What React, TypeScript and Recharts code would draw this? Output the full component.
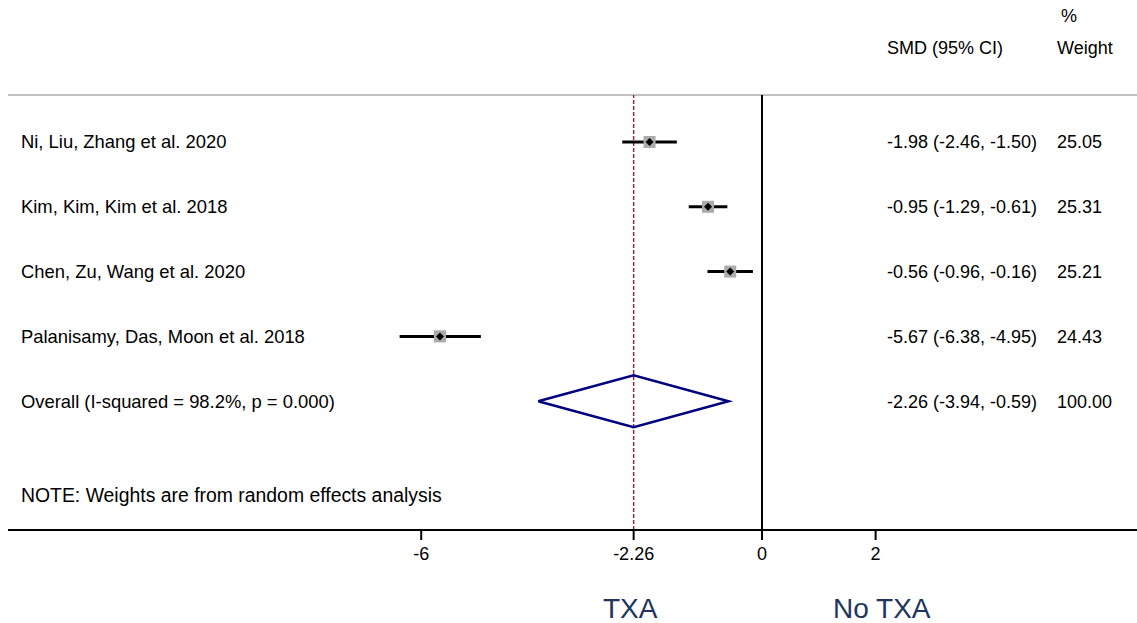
import { ComposedChart, Scatter, XAxis, YAxis, ReferenceLine, ErrorBar } from 'recharts';

const studies = [
  'Ni, Liu, Zhang et al. 2020',
  'Kim, Kim, Kim et al. 2018',
  'Chen, Zu, Wang et al. 2020',
  'Palanisamy, Das, Moon et al. 2018',
];
const smd = [-1.98, -0.95, -0.56, -5.67];
const lower = [-2.46, -1.29, -0.96, -6.38];
const upper = [-1.5, -0.61, -0.16, -4.95];
const weights = [25.05, 25.31, 25.21, 24.43];

const overallLabel = 'Overall (I-squared = 98.2%, p = 0.000)';
const overallSmd = -2.26;
const overallLower = -3.94;
const overallUpper = -0.59;
const overallWeight = 100.0;

const noteLabel = 'NOTE: Weights are from random effects analysis';
const xTicks = [-6, -2.26, 0, 2];
const sideLabels = ['TXA', 'No TXA'];

const FONT = "'Liberation Sans', Arial, Helvetica, sans-serif";
const W = 1137;
const H = 623;

// rows are numbered from the top: studies 1..4, overall 5, note row below
const studyRows = studies.map((name, i) => ({
  x: smd[i],
  y: i + 1,
  label: name,
  ci: `${smd[i].toFixed(2)} (${lower[i].toFixed(2)}, ${upper[i].toFixed(2)})`,
  weight: weights[i].toFixed(2),
  err: [smd[i] - lower[i], upper[i] - smd[i]],
}));

const overallRow = studies.length + 1;
const textRows = [
  ...studyRows,
  {
    x: overallSmd,
    y: overallRow,
    label: overallLabel,
    ci: `${overallSmd.toFixed(2)} (${overallLower.toFixed(2)}, ${overallUpper.toFixed(2)})`,
    weight: overallWeight.toFixed(2),
  },
  { x: 0, y: overallRow + 1.46, label: noteLabel, ci: '', weight: '', note: true },
];

const diamondHalf = 0.4;
const diamond = [
  { x: overallLower, y: overallRow },
  { x: overallSmd, y: overallRow - diamondHalf },
  { x: overallUpper, y: overallRow },
  { x: overallSmd, y: overallRow + diamondHalf },
  { x: overallLower, y: overallRow },
];

const Y_MIN = 0.275;
const Y_MAX = 6.988;

const BoxShape = (p: any) => (
  <rect x={p.cx - 6} y={p.cy - 6} width={12} height={12} fill="#ababab" />
);

const PointShape = (p: any) => (
  <path
    d={`M${p.cx - 4},${p.cy} L${p.cx},${p.cy - 4} L${p.cx + 4},${p.cy} L${p.cx},${p.cy + 4} Z`}
    fill="#000"
  />
);

const RowText = (p: any) => {
  const d = p.payload;
  return (
    <g fontFamily={FONT} fill="#000">
      <text x={21} y={p.cy + 6.5} fontSize={d.note ? 19.4 : 18.4}>{d.label}</text>
      {d.ci && <text x={887} y={p.cy + 6.5} fontSize={18}>{d.ci}</text>}
      {d.weight && <text x={1057} y={p.cy + 6.5} fontSize={18}>{d.weight}</text>}
    </g>
  );
};

const Empty = () => <g />;

export default function App() {
  return (
    <div style={{ position: 'absolute', left: 0, top: 0, width: W, height: H, background: '#fff' }}>
      <ComposedChart width={W} height={H} margin={{ top: 95, right: 0, bottom: 63, left: 8 }}>
        <XAxis
          type="number"
          dataKey="x"
          domain={[-13.275, 6.602]}
          allowDataOverflow
          ticks={xTicks}
          interval={0}
          height={30}
          tickSize={10}
          tickMargin={7}
          axisLine={{ stroke: '#000', strokeWidth: 2 }}
          tickLine={{ stroke: '#000', strokeWidth: 2 }}
          tick={{ fontSize: 18, fill: '#000', fontFamily: FONT }}
          tickFormatter={(v: number) => String(v)}
        />
        <YAxis type="number" dataKey="y" domain={[Y_MIN, Y_MAX]} reversed hide allowDataOverflow />
        <ReferenceLine y={Y_MIN} stroke="#c0c0c0" strokeWidth={2} />
        <ReferenceLine x={0} stroke="#000" strokeWidth={2} />
        <ReferenceLine x={overallSmd} stroke="#9a2a3c" strokeWidth={1.5} strokeDasharray="4 2" />
        <Scatter data={studyRows} shape={BoxShape} isAnimationActive={false} />
        <Scatter data={studyRows} shape={PointShape} isAnimationActive={false}>
          <ErrorBar dataKey="err" direction="x" width={0} stroke="#000" strokeWidth={3} />
        </Scatter>
        <Scatter
          data={diamond}
          shape={Empty}
          line={{ stroke: '#000080', strokeWidth: 2.5 }}
          lineType="joint"
          isAnimationActive={false}
        />
        <Scatter data={textRows} shape={RowText} isAnimationActive={false} />
      </ComposedChart>
      <svg width={W} height={H} style={{ position: 'absolute', left: 0, top: 0, pointerEvents: 'none' }}>
        <g fontFamily={FONT} fill="#000" fontSize={18}>
          <text x={1061} y={22}>%</text>
          <text x={887} y={54}>SMD (95% CI)</text>
          <text x={1057} y={54}>Weight</text>
        </g>
        <g fontFamily={FONT} fill="#1f3560" fontSize={28}>
          <text x={603} y={618}>{sideLabels[0]}</text>
          <text x={833} y={618}>{sideLabels[1]}</text>
        </g>
      </svg>
    </div>
  );
}
